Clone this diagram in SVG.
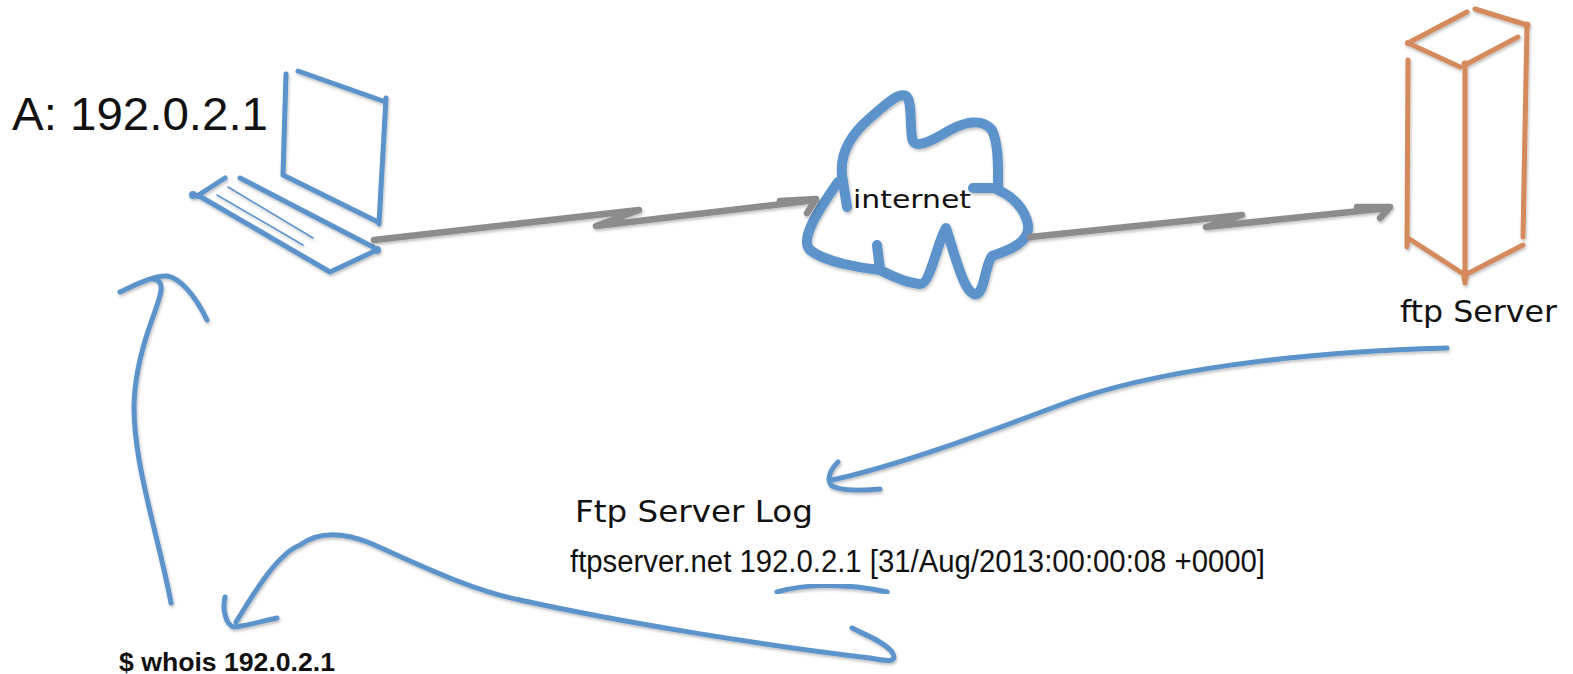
<svg xmlns="http://www.w3.org/2000/svg" width="1573" height="674" viewBox="0 0 1573 674">
<style>
  .blue { fill: none; stroke: #5b93cb; stroke-linecap: round; stroke-linejoin: round; }
  .orange { fill: none; stroke: #d48a5c; stroke-width: 5; stroke-linecap: round; stroke-linejoin: round; }
  .gray { fill: none; stroke: #8c8c8c; stroke-width: 6.5; stroke-linecap: round; stroke-linejoin: round; }
  .conn { stroke-width: 5; }
  .hand { font-family: "DejaVu Sans", "Liberation Sans", sans-serif; fill: #111; }
  .plain { font-family: "Liberation Sans", Arial, sans-serif; fill: #111; }
</style>
<defs>
  <filter id="sh" x="-10%" y="-10%" width="120%" height="130%">
    <feDropShadow dx="1" dy="2" stdDeviation="1.5" flood-color="#000" flood-opacity="0.25"/>
  </filter>
</defs>
<rect width="1573" height="674" fill="#ffffff"/>

<g id="laptop" filter="url(#sh)">
  <path class="blue" stroke-width="5" d="M 286 74 L 283 175 L 378 222 M 386 98 L 379 224 M 298 71 L 383 101"/>
  <path class="blue" stroke-width="5" d="M 225 178 L 197 196 M 193 195 L 201 197 L 330 272 L 377 250 M 240 178 L 373 247"/>
  <circle cx="193" cy="195" r="4" fill="#5b93cb"/>
  <circle cx="377" cy="250" r="4" fill="#5b93cb"/>
  <path class="blue" stroke-width="1.5" d="M 228 187 L 313 238 M 217 195 L 303 245"/>
</g>
<g id="label-a">
  <text class="plain" x="12" y="130" font-size="46" textLength="256" lengthAdjust="spacingAndGlyphs">A: 192.0.2.1</text>
</g>

<g id="internet">
  <path class="blue" stroke-width="10" filter="url(#sh)" d="M 847 207 L 842 175 C 840 155, 850 135, 870 118 C 885 105, 898 92, 906 96 C 912 100, 910 125, 912 138 C 914 150, 930 142, 950 130 C 965 122, 982 118, 992 130 C 999 145, 998 170, 998 190 C 1012 196, 1025 208, 1028 225 C 1030 242, 1010 250, 992 256 C 985 265, 985 290, 977 294 C 965 298, 955 255, 946 228 C 938 240, 930 285, 920 284 C 905 283, 890 275, 880 270 C 860 268, 825 262, 810 250 C 800 240, 815 215, 838 182 M 880 270 L 877 245 M 998 188 L 973 188"/>
  <text class="hand" x="853" y="208" font-size="24" textLength="118" lengthAdjust="spacingAndGlyphs">internet</text>
</g>

<g id="ftp-server">
  <g filter="url(#sh)">
    <path class="orange" d="M 1408 43 L 1467 12 M 1475 9 L 1527 25 M 1518 37 L 1465 65 M 1408 43 L 1460 67 M 1408 60 L 1407 247 M 1465 63 L 1465 283 M 1527 25 L 1523 237 M 1408 238 L 1465 275 L 1523 245"/>
    <circle cx="1527" cy="25" r="3.5" fill="#d48a5c"/>
    <circle cx="1465" cy="64" r="3.5" fill="#d48a5c"/>
    <circle cx="1408" cy="43" r="3" fill="#d48a5c"/>
    <circle cx="1465" cy="278" r="3.5" fill="#d48a5c"/>
    <circle cx="1408" cy="240" r="3" fill="#d48a5c"/>
  </g>
  <text class="hand" x="1400" y="322" font-size="30" textLength="157" lengthAdjust="spacingAndGlyphs">ftp Server</text>
</g>

<g id="ftp-log">
  <text class="hand" x="575" y="522" font-size="30" textLength="238" lengthAdjust="spacingAndGlyphs">Ftp Server Log</text>
  <text class="plain" x="570" y="572" font-size="31" textLength="695" lengthAdjust="spacingAndGlyphs">ftpserver.net 192.0.2.1 [31/Aug/2013:00:00:08 +0000]</text>
  <path class="blue" stroke-width="5" filter="url(#sh)" d="M 777 592 C 800 585, 840 582, 887 592"/>
</g>

<g id="whois">
  <text class="plain" x="119" y="671" font-size="25" font-weight="bold" textLength="216" lengthAdjust="spacingAndGlyphs">$ whois 192.0.2.1</text>
</g>

<g id="connectors" filter="url(#sh)">
  <path class="gray" d="M 374 240 L 639 210 L 596 226 L 816 200 M 780 201 L 816 199 L 807 213"/>
  <path class="gray" d="M 1030 237 L 1242 215 L 1206 227 L 1389 208 M 1357 207 L 1390 207 L 1380 218"/>
  <path class="blue conn" d="M 1447 348 C 1300 352, 1150 370, 1060 405 C 980 435, 900 465, 832 480 M 838 462 C 830 470, 826 480, 832 486 C 845 492, 865 490, 880 489"/>
  <path class="blue conn" d="M 236 622 C 250 600, 275 555, 300 545 C 320 530, 345 533, 370 543 C 420 565, 470 590, 520 600 C 620 622, 760 645, 870 658 C 890 662, 898 662, 892 652 C 885 642, 865 635, 852 628 M 225 597 C 222 610, 226 625, 234 627 C 250 625, 262 621, 277 618"/>
  <path class="blue conn" d="M 171 603 C 160 540, 128 450, 135 390 C 140 340, 160 305, 161 290 C 162 282, 158 279, 152 279 M 120 292 C 135 285, 155 275, 167 276 C 180 278, 195 295, 207 320"/>
</g>
</svg>
